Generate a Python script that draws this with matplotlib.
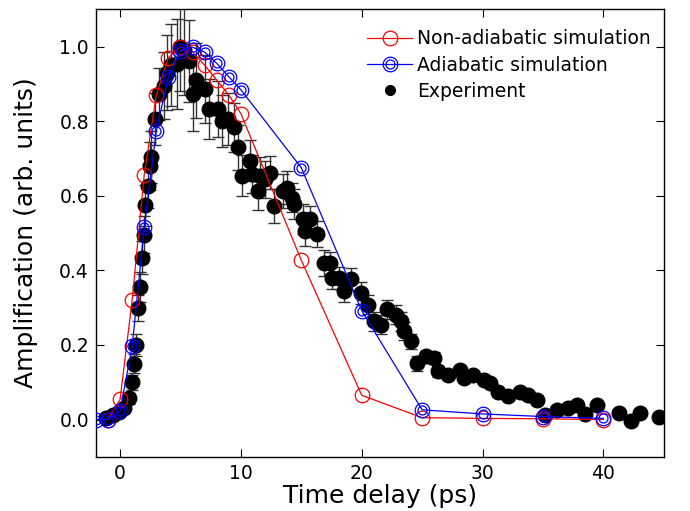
import numpy as np
import matplotlib
matplotlib.use('Agg')
from matplotlib import pyplot as plt
from matplotlib.legend_handler import HandlerTuple

# simulations
sim_nonad_t = [-1, 0, 1, 2, 3, 4, 5, 6, 7, 8, 9, 10, 15, 20, 25, 30, 35, 40]
sim_nonad_y = [0.0, 0.054, 0.32, 0.656, 0.87, 0.97, 1.0, 0.985, 0.95, 0.91, 0.87, 0.82,
               0.427, 0.065, 0.005, 0.003, 0.002, 0.0]
sim_ad_t = [-2, -1, 0, 1, 2, 3, 4, 5, 6, 7, 8, 9, 10, 15, 20, 25, 30, 35, 40]
sim_ad_y = [0.0, 0.0, 0.023, 0.196, 0.516, 0.774, 0.919, 0.989, 0.998, 0.985, 0.955, 0.919,
            0.884, 0.675, 0.292, 0.026, 0.015, 0.008, 0.003]

# experiment
exp_t = [-1.2, -0.6, -0.1, 0.3, 0.7, 0.95, 1.15, 1.3, 1.5, 1.65, 1.85, 2.0, 2.1, 2.3, 2.45,
         2.6, 2.9, 3.25, 3.6, 3.9, 4.2, 4.7, 5.0, 5.3, 5.7, 6.0, 6.3, 7.0, 7.4, 8.1,
         8.4, 8.9, 9.4, 9.8, 10.05, 10.75, 10.9, 11.4, 11.6, 12.0, 12.4, 12.7, 13.5, 13.8, 14.2,
         14.4, 15.1, 15.3, 15.75, 16.3, 16.9, 17.4, 17.5, 18.1, 18.5, 19.1, 19.9, 20.5, 21.0, 21.6,
         22.1, 22.8, 23.25, 23.5, 24.1, 24.6, 25.3, 26.0, 26.3, 27.1, 28.1, 28.5, 29.2, 30.1, 30.6,
         31.3, 32.1, 33.1, 33.8, 34.5, 35.2, 36.2, 37.1, 37.8, 38.5, 39.5, 41.3, 42.3, 43.0, 44.6]
exp_y = [0.005, 0.012, 0.02, 0.03, 0.057, 0.10, 0.15, 0.20, 0.30, 0.355, 0.434, 0.496, 0.575, 0.626, 0.68,
         0.704, 0.806, 0.873, 0.895, 0.93, 0.95, 0.953, 1.0, 0.99, 0.962, 0.873, 0.909, 0.886, 0.833, 0.833,
         0.80, 0.806, 0.783, 0.73, 0.653, 0.694, 0.658, 0.613, 0.653, 0.644, 0.662, 0.573, 0.613, 0.622, 0.595,
         0.577, 0.537, 0.505, 0.537, 0.497, 0.42, 0.42, 0.38, 0.38, 0.344, 0.376, 0.34, 0.308, 0.263, 0.254,
         0.295, 0.281, 0.263, 0.237, 0.21, 0.151, 0.169, 0.165, 0.129, 0.12, 0.134, 0.111, 0.12, 0.107, 0.098,
         0.075, 0.062, 0.075, 0.066, 0.053, 0.013, 0.026, 0.03, 0.04, 0.014, 0.04, 0.017, -0.004, 0.017, 0.008]
exp_err = [0.008, 0.008, 0.01, 0.01, 0.015, 0.02, 0.025, 0.03, 0.035, 0.04, 0.045, 0.05, 0.055, 0.06, 0.065,
           0.07, 0.07, 0.07, 0.09, 0.1, 0.11, 0.12, 0.12, 0.12, 0.11, 0.1, 0.1, 0.09, 0.08, 0.075,
           0.07, 0.07, 0.065, 0.06, 0.055, 0.055, 0.05, 0.05, 0.05, 0.05, 0.045, 0.045, 0.045, 0.045, 0.04,
           0.04, 0.04, 0.04, 0.035, 0.035, 0.035, 0.03, 0.03, 0.03, 0.03, 0.03, 0.03, 0.025, 0.025, 0.025,
           0.025, 0.025, 0.025, 0.025, 0.02, 0.02, 0.015, 0.015, 0.015, 0.01, 0.01, 0.01, 0.01, 0.01, 0.01,
           0.01, 0.01, 0.01, 0.01, 0.01, 0.005, 0.005, 0.005, 0.005, 0.005, 0.005, 0.005, 0.005, 0.005, 0.005]

fig = plt.figure(figsize=(6.9, 5.11), dpi=100)
ax = fig.add_axes([0.139, 0.106, 0.823, 0.876])

ax.errorbar(exp_t, exp_y, yerr=exp_err, fmt='none', ecolor='0.2', elinewidth=1,
            capsize=4, capthick=1, zorder=2)
exp_pts, = ax.plot(exp_t, exp_y, 'o', color='k', ms=10.5, zorder=3)

nonad, = ax.plot(sim_nonad_t, sim_nonad_y, '-o', color='red', lw=0.9, ms=10.5, mfc='none',
                 mec='red', mew=0.9, zorder=4)
ad_out, = ax.plot(sim_ad_t, sim_ad_y, '-o', color='blue', lw=0.9, ms=10.5, mfc='none',
                  mec='blue', mew=0.9, zorder=5)
ad_in, = ax.plot(sim_ad_t, sim_ad_y, 'o', color='blue', ms=6.5, mfc='none', mec='blue',
                 mew=0.9, zorder=6)

ax.set_xlim(-2, 45)
ax.set_ylim(-0.1, 1.1)
ax.set_xticks([0, 10, 20, 30, 40])
ax.set_yticks([0.0, 0.2, 0.4, 0.6, 0.8, 1.0])
ax.set_yticklabels(['0.0', '0.2', '0.4', '0.6', '0.8', '1.0'])
ax.tick_params(direction='in', top=True, right=True, length=6, labelsize=13.5, pad=5)
for s in ax.spines.values():
    s.set_linewidth(1)

ax.set_xlabel('Time delay (ps)', fontsize=18, labelpad=1)
ax.set_ylabel('Amplification (arb. units)', fontsize=18, labelpad=15)

exp_leg, = ax.plot([], [], 'o', color='k', ms=7)
ax.legend([nonad, (ad_out, ad_in), exp_leg],
          ['Non-adiabatic simulation', 'Adiabatic simulation', 'Experiment'],
          handler_map={tuple: HandlerTuple(ndivide=1)},
          loc='upper right', frameon=False, numpoints=1, fontsize=13.5,
          handlelength=2.4, handletextpad=0.25, labelspacing=0.38,
          borderaxespad=0.3, bbox_to_anchor=(1.0, 0.984))

fig.savefig('out.png', dpi=100)
